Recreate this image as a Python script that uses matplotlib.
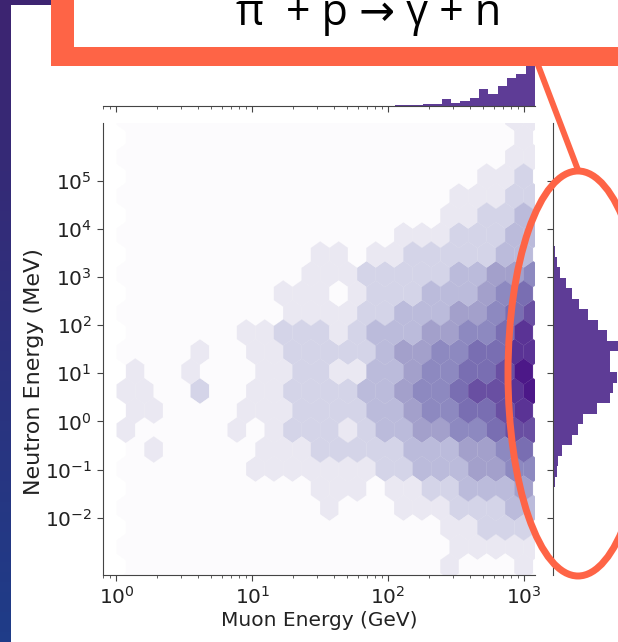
import matplotlib
matplotlib.use('Agg')
import numpy as np
import matplotlib.pyplot as plt
from matplotlib.patches import Rectangle, Ellipse
from matplotlib.colors import LinearSegmentedColormap, PowerNorm

W, H = 618, 642
plt.rcParams['font.size'] = 14.5

# hexbin lattice, in decades (log10 GeV / log10 MeV)
hex_x0, hex_dx, hex_nx = 0.07, 0.1362, 22
hex_y0, hex_dy, hex_ny = -3.413, 0.809, 12

# intensity of each hex cell (0 = empty .. 9 = darkest), top row first;
# rows alternate between the two hexbin lattices (23 / 22 cells)
hex_rows = [
    "00000000000000000000011",
    "0000000000000000000001",
    "00000000000000000000011",
    "0000000000000000000112",
    "00000000000000000011122",
    "0000000000000000011223",
    "00000000000000011122233",
    "0000000000110112222233",
    "00000000001112222233445",
    "0000000011101222333456",
    "00000000011112233344567",
    "0000001122212333445568",
    "00001001122222344556688",
    "1001000112211334556679",
    "11002001122223345567789",
    "1100001112222334556678",
    "10000010122212334455677",
    "0100000111222223334456",
    "00000001111111223334455",
    "0000000000111011223334",
    "00000000000100011122233",
    "0000000000000000011222",
    "00000000000000000011111",
    "0000000000000000010001",
    "00000000000000000000000",
]

# marginal histograms (bin ranges in decades, counts in arbitrary units)
xhist_range = (2.051, 3.082)
xhist_counts = [0.7, 0.7, 1, 1.7, 1.7, 6.7, 3.3, 5, 8.3, 16.7, 11.7, 20, 28, 32, 60]
yhist_range = (-1.365, 3.635)
yhist_counts = [2, 4, 5, 9, 19, 25, 30, 44, 57, 60, 64, 57, 57, 68, 54, 45, 35,
                26, 19, 13, 7, 4, 2]

neutron_ticks = [1e-2, 1e-1, 1e0, 1e1, 1e2, 1e3, 1e4, 1e5]

purple = '#5e3c96'
orange = '#fe6446'
tick_col = '#222222'
hex_cmap = LinearSegmentedColormap.from_list(
    'hexpurples', plt.get_cmap('Purples')(np.linspace(0, 0.92, 256)))


def px_axes(left, top, right, bottom):
    return [left / W, 1 - bottom / H, (right - left) / W, (bottom - top) / H]


fig = plt.figure(figsize=(W / 100, H / 100), dpi=100)
ax = fig.add_axes(px_axes(103, 123, 535, 575))
ax_top = fig.add_axes(px_axes(103, 6, 535, 106), sharex=ax)
ax_right = fig.add_axes(px_axes(553, 123, 653, 575), sharey=ax)

# hex cells -> points at the lattice centres, one per cell
xs, ys, cs = [], [], []
for r, row in enumerate(hex_rows):
    k = len(hex_rows) - 1 - r
    shift = 0.5 * (k % 2)
    for i, ch in enumerate(row):
        xs.append(10 ** (hex_x0 + (i + shift) * hex_dx))
        ys.append(10 ** (hex_y0 + k * hex_dy / 2))
        cs.append(int(ch))

ax.hexbin(xs, ys, C=cs, reduce_C_function=np.mean,
          gridsize=(hex_nx, hex_ny),
          extent=(hex_x0, hex_x0 + hex_nx * hex_dx, hex_y0, hex_y0 + hex_ny * hex_dy),
          xscale='log', yscale='log', cmap=hex_cmap,
          norm=PowerNorm(0.8, vmin=0, vmax=9),
          linewidths=0.2, edgecolors='face')
ax.set_xlim(10 ** -0.0994, 10 ** 3.0817)
ax.set_ylim(10 ** -3.185, 10 ** 6.193)
ax.set_yticks(neutron_ticks)
ax.set_xlabel('Muon Energy (GeV)', color=tick_col, labelpad=2)
ax.set_ylabel('Neutron Energy (MeV)', color=tick_col, fontsize=16)
ax.yaxis.set_label_coords(-0.136, 0.45)
for s in ['top', 'right']:
    ax.spines[s].set_visible(False)
for s in ['left', 'bottom']:
    ax.spines[s].set_color('#444444')
ax.tick_params(which='major', length=4.5, color='#444444', labelcolor=tick_col)
ax.tick_params(which='minor', length=2.5, color='#444444')

# top marginal (muon energy)
xe = 10 ** np.linspace(xhist_range[0], xhist_range[1], len(xhist_counts) + 1)
ax_top.stairs(xhist_counts, xe, fill=True, color=purple)
ax_top.set_ylim(0, 100)
for s in ['top', 'right', 'left']:
    ax_top.spines[s].set_visible(False)
ax_top.spines['bottom'].set_color('#444444')
ax_top.tick_params(labelbottom=False, which='both', color='#444444')
ax_top.tick_params(which='major', length=4.5)
ax_top.tick_params(which='minor', length=2.5)
ax_top.set_yticks([])

# right marginal (neutron energy)
ye = 10 ** np.linspace(yhist_range[0], yhist_range[1], len(yhist_counts) + 1)
ax_right.stairs(yhist_counts, ye, fill=True, color=purple, orientation='horizontal')
ax_right.set_xlim(0, 100)
for s in ['top', 'right', 'bottom']:
    ax_right.spines[s].set_visible(False)
ax_right.spines['left'].set_color('#444444')
ax_right.tick_params(labelleft=False, which='both', color='#444444')
ax_right.tick_params(which='major', length=4.5)
ax_right.tick_params(which='minor', length=2.5)
ax_right.set_xticks([])

# slide decorations on top
ov = fig.add_axes([0, 0, 1, 1], zorder=10)
strip = LinearSegmentedColormap.from_list('strip', ['#3d2471', '#1f3c88'])
ov.imshow(np.linspace(0, 1, 64).reshape(-1, 1), cmap=strip,
          extent=(0, 11, H, 0), aspect='auto')
ov.add_patch(Rectangle((0, 0), 51, 5, color='#3d2471', lw=0))
ov.add_patch(Rectangle((51, -20), 700, 86, color=orange, lw=0))
ov.add_patch(Rectangle((74, -20), 700, 67, color='white', lw=0))
title_font = dict(fontsize=31, family=['Open Sans', 'DejaVu Sans'], color='black',
                  va='baseline', ha='left')
# reaction label; the superscript minus sits above the slide crop
ov.text(235, 25, 'π', **title_font)
ov.text(262, -14, '−', **dict(title_font, fontsize=20))
ov.text(286, 25, '+ p → γ + n', **title_font)
ov.plot([538, 578], [65, 170], color=orange, lw=4.3, solid_capstyle='butt')
ov.add_patch(Ellipse((578, 373.5), 140, 405, fill=False, ec=orange, lw=5))
ov.set_xlim(0, W)
ov.set_ylim(H, 0)
ov.axis('off')

fig.savefig('out.png', dpi=100)
